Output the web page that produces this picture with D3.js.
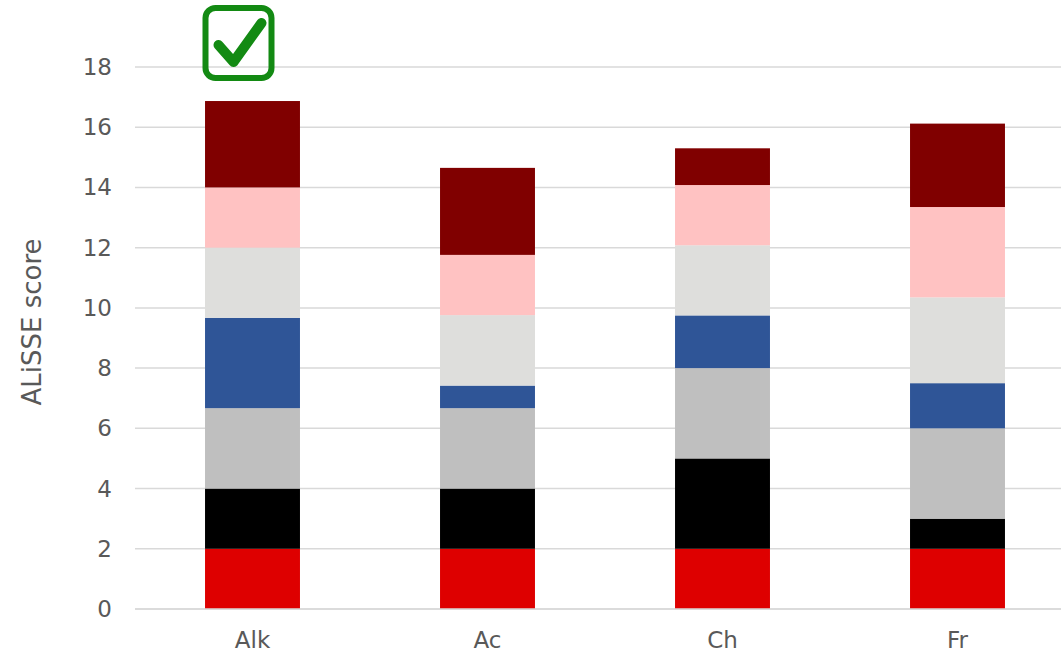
<!DOCTYPE html>
<html>
<head>
<meta charset="utf-8">
<script src="https://cdn.jsdelivr.net/npm/d3@7"></script>
<style>
  body { margin: 0; background: #fff; }
  svg { display: block; font-family: "DejaVu Sans", Verdana, sans-serif; }
</style>
</head>
<body>
<svg id="chart" width="1061" height="654"></svg>
<script>
// categories and stacked segment values (bottom to top)
const categories = ['Alk', 'Ac', 'Ch', 'Fr'];
const segmentKeys = ['s1', 's2', 's3', 's4', 's5', 's6', 's7'];
const segmentColors = ['#de0000', '#000000', '#bfbfbf', '#2f5597', '#dededc', '#ffc2c2', '#800000'];

const s1 = [2, 2, 2, 2];
const s2 = [2, 2, 3, 1];
const s3 = [2.67, 2.67, 3, 3];
const s4 = [3, 0.75, 1.75, 1.5];
const s5 = [2.33, 2.34, 2.33, 2.85];
const s6 = [2, 2, 2, 3];
const s7 = [2.87, 2.89, 1.22, 2.77];

const yTicks = [0, 2, 4, 6, 8, 10, 12, 14, 16, 18];
const yTitle = 'ALiSSE score';
const checkedCategory = 'Alk';

const seriesValues = [s1, s2, s3, s4, s5, s6, s7];
const rows = categories.map((cat, i) => {
    const row = { cat };
    segmentKeys.forEach((k, j) => { row[k] = seriesValues[j][i]; });
    return row;
});

const svg = d3.select('#chart');
const margin = { left: 135, right: -14, top: 67, bottom: 45 };
const width = 1061, height = 654;

const x = d3.scaleBand()
    .domain(categories)
    .range([margin.left, width - margin.right])
    .paddingInner(0.596)
    .paddingOuter(0.298);

const y = d3.scaleLinear()
    .domain([0, 18])
    .range([height - margin.bottom, margin.top]);

const textColor = '#595959';
const gridColor = '#d9d9d9';

// gridlines
svg.append('g')
    .selectAll('line')
    .data(yTicks)
    .join('line')
    .attr('x1', margin.left)
    .attr('x2', width)
    .attr('y1', d => y(d))
    .attr('y2', d => y(d))
    .attr('stroke', gridColor)
    .attr('stroke-width', 1.5);

// y tick labels
svg.append('g')
    .selectAll('text')
    .data(yTicks)
    .join('text')
    .attr('x', 112)
    .attr('y', d => y(d))
    .attr('dy', '0.35em')
    .attr('text-anchor', 'end')
    .attr('fill', textColor)
    .style('font-size', '23px')
    .text(d => d);

// stacked bars
const stacked = d3.stack().keys(segmentKeys)(rows);
svg.append('g')
    .selectAll('g')
    .data(stacked)
    .join('g')
    .attr('fill', (d, i) => segmentColors[i])
    .selectAll('rect')
    .data(d => d)
    .join('rect')
    .attr('x', d => x(d.data.cat))
    .attr('width', x.bandwidth())
    .attr('y', d => y(d[1]))
    .attr('height', d => y(d[0]) - y(d[1]));

// x axis line drawn over bars' bottom
svg.append('line')
    .attr('x1', margin.left)
    .attr('x2', width)
    .attr('y1', y(0))
    .attr('y2', y(0))
    .attr('stroke', gridColor)
    .attr('stroke-width', 1.5);

// category labels
svg.append('g')
    .selectAll('text')
    .data(categories)
    .join('text')
    .attr('x', d => x(d) + x.bandwidth() / 2)
    .attr('y', 648)
    .attr('text-anchor', 'middle')
    .attr('fill', textColor)
    .style('font-size', '23px')
    .text(d => d);

// y axis title
svg.append('text')
    .attr('transform', 'translate(41, 322) rotate(-90)')
    .attr('text-anchor', 'middle')
    .attr('fill', textColor)
    .style('font-size', '26px')
    .text(yTitle);

// green check box above the winning category
const cx = x(checkedCategory) + x.bandwidth() / 2 - 14;
const check = svg.append('g').attr('transform', `translate(${cx}, 42)`);
check.append('rect')
    .attr('x', -33).attr('y', -34)
    .attr('width', 66).attr('height', 70)
    .attr('rx', 10)
    .attr('fill', 'none')
    .attr('stroke', '#138a13')
    .attr('stroke-width', 6);
check.append('path')
    .attr('d', 'M-20,3 L-5,20 L23,-19')
    .attr('fill', 'none')
    .attr('stroke', '#138a13')
    .attr('stroke-width', 10)
    .attr('stroke-linecap', 'round')
    .attr('stroke-linejoin', 'round');
</script>
</body>
</html>
